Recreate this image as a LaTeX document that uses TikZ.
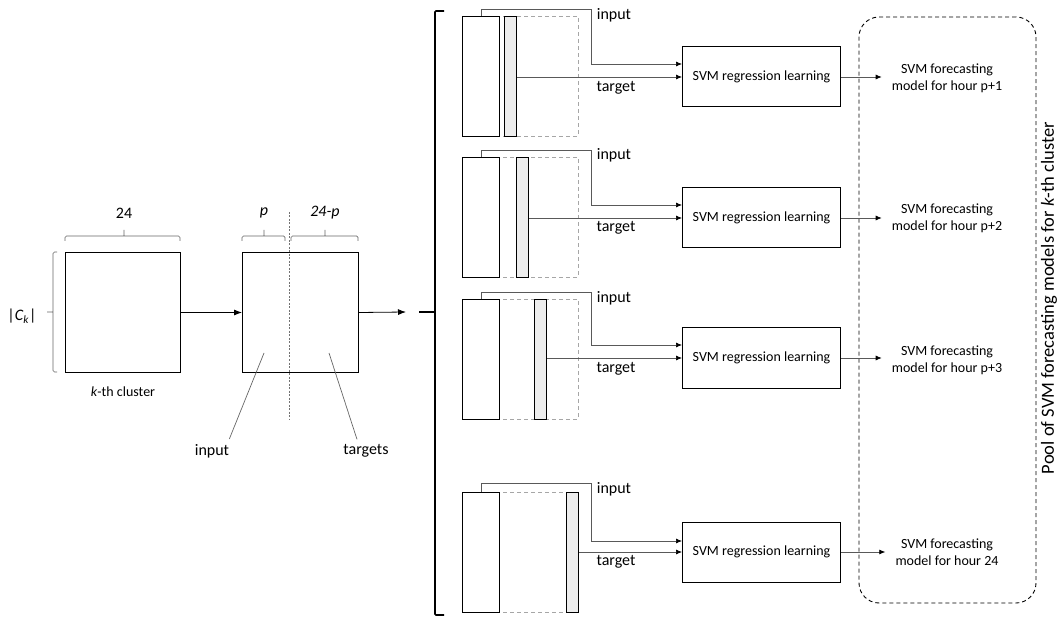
\documentclass[tikz,border=0pt]{standalone}
\usepackage{fontspec}
\setmainfont{Carlito}
\usetikzlibrary{arrows.meta}

\begin{document}
\begin{tikzpicture}[x=1pt,y=-1pt,
  every node/.style={inner sep=0pt},
  blk/.style={draw,line width=1pt,fill=white,anchor=north west,minimum height=120pt},
  col/.style={blk,minimum width=37pt},
  tgt/.style={draw,line width=1pt,fill=black!7,anchor=north west,minimum width=12pt,minimum height=120pt},
  win/.style={draw=black!35,line width=0.8pt,dash pattern=on 4pt off 3pt},
  svm/.style={draw,line width=1pt,anchor=west,minimum width=158pt,minimum height=60pt,font=\fontsize{14}{17}\selectfont},
  fcst/.style={align=center,inner xsep=10pt,font=\fontsize{14}{17}\selectfont},
  lbl/.style={font=\fontsize{16}{19}\selectfont},
  brk/.style={draw=black!60,line width=0.7pt,rounded corners=1.5pt},
  arr/.style={draw,line width=0.8pt,-{Latex[length=8pt,width=6pt]}},
  conn/.style={draw=black!65,line width=0.7pt,-{Latex[length=6pt,width=5pt,black]}}]
\useasboundingbox (0,0) rectangle (1057,617);

\node[blk,minimum width=115pt] (c1) at (65,252) {};
\node[blk,minimum width=116pt] (c2) at (242,252) {};
\draw[brk] (57,252) -- (53,252) -- (53,372) -- (57,372) (53,312) -- (47,312);
\node[lbl] (ck) at (22,316) {|\textit{C}\textsubscript{\textit{k}}|};
\draw[brk] (65,241) -- (65,236) -- (180,236) -- (180,241) (124,236) -- (124,230);
\draw[brk] (242,241) -- (242,236) -- (285,236) -- (285,241) (264,236) -- (264,230);
\draw[brk] (291,241) -- (291,236) -- (358,236) -- (358,241) (325,236) -- (325,230);
\node[lbl] (n24) at (124,213) {24};
\node[lbl] (np) at (264,213) {\textit{p}};
\node[lbl] (nq) at (325,213) {\textit{24-p}};
\node[font=\fontsize{14}{17}\selectfont] (kc) at (123,392) {\textit{k}-th cluster};
\draw[black!55,line width=0.6pt,dash pattern=on 2pt off 1.5pt] (289,212) -- (289,419);
\coordinate (pin) at (264,353);
\coordinate (ptg) at (329,353);
\node[lbl] (lin) at (212,451) {input};
\node[lbl] (ltg) at (366,451) {targets};
\draw[black!60,line width=0.7pt] (pin) -- ([yshift=5pt]lin.north east);
\draw[black!60,line width=0.7pt] (ptg) -- ([shift={(-9pt,5pt)}]ltg.north);
\draw[arr] (c1.east) -- (c2.west);
\coordinate (split) at (406,312);
\draw[arr] (c2.east) -- (split);
\draw[line width=1.6pt,rounded corners=1pt] (444,11) -- (435,11) -- (435,615) -- (444,615) (419,312) -- (435,312);

\node[draw,line width=0.9pt,dash pattern=on 4pt off 3pt,rounded corners=20pt,minimum width=177pt,minimum height=586pt] (pool) at (947.5,310) {};
\node[font=\fontsize{18.5}{22}\selectfont,rotate=90] (pooltxt) at (1049,298) {Pool of SVM forecasting models for \textit{k}-th cluster};

\draw[win] (462,16) rectangle (578,136);
\node[col] (w1) at (462,16) {};
\node[tgt] (b1) at (504,16) {};
\node[svm] (s1) at (682,77) {SVM regression learning};
\node[fcst] (f1) at (947,78) {SVM forecasting\\model for hour p+1};
\node[lbl] (i1) at (614,15) {input};
\node[lbl] (t1) at (616,88) {target};
\draw[conn] (w1.north) -- ++(0,-7) -| ([xshift=-91pt,yshift=13pt]s1.west) -- ([yshift=13pt]s1.west);
\draw[conn] (b1.east |- s1.west) -- (s1.west);
\draw[conn] (s1.east) -- (s1.east -| f1.west);

\draw[win] (462,157) rectangle (578,277);
\node[col] (w2) at (462,157) {};
\node[tgt] (b2) at (516,157) {};
\node[svm] (s2) at (682,218) {SVM regression learning};
\node[fcst] (f2) at (947,218) {SVM forecasting\\model for hour p+2};
\node[lbl] (i2) at (614,155) {input};
\node[lbl] (t2) at (616,228) {target};
\draw[conn] (w2.north) -- ++(0,-7) -| ([xshift=-91pt,yshift=13pt]s2.west) -- ([yshift=13pt]s2.west);
\draw[conn] (b2.east |- s2.west) -- (s2.west);
\draw[conn] (s2.east) -- (s2.east -| f2.west);

\draw[win] (462,299) rectangle (578,419);
\node[col] (w3) at (462,299) {};
\node[tgt] (b3) at (534,299) {};
\node[svm] (s3) at (682,358) {SVM regression learning};
\node[fcst] (f3) at (947,360) {SVM forecasting\\model for hour p+3};
\node[lbl] (i3) at (614,298) {input};
\node[lbl] (t3) at (616,369) {target};
\draw[conn] (w3.north) -- ++(0,-7) -| ([xshift=-91pt,yshift=13pt]s3.west) -- ([yshift=13pt]s3.west);
\draw[conn] (b3.east |- s3.west) -- (s3.west);
\draw[conn] (s3.east) -- (s3.east -| f3.west);

\draw[win] (462,492) rectangle (578,612);
\node[col] (w4) at (462,492) {};
\node[tgt] (b4) at (566,492) {};
\node[svm] (s4) at (682,552) {SVM regression learning};
\node[fcst] (f4) at (947,552) {SVM forecasting\\model for hour 24};
\node[lbl] (i4) at (614,489) {input};
\node[lbl] (t4) at (616,562) {target};
\draw[conn] (w4.north) -- ++(0,-9) -| ([xshift=-91pt,yshift=11pt]s4.west) -- ([yshift=11pt]s4.west);
\draw[conn] (b4.east |- s4.west) -- (s4.west);
\draw[conn] (s4.east) -- (s4.east -| f4.west);
\end{tikzpicture}
\end{document}
